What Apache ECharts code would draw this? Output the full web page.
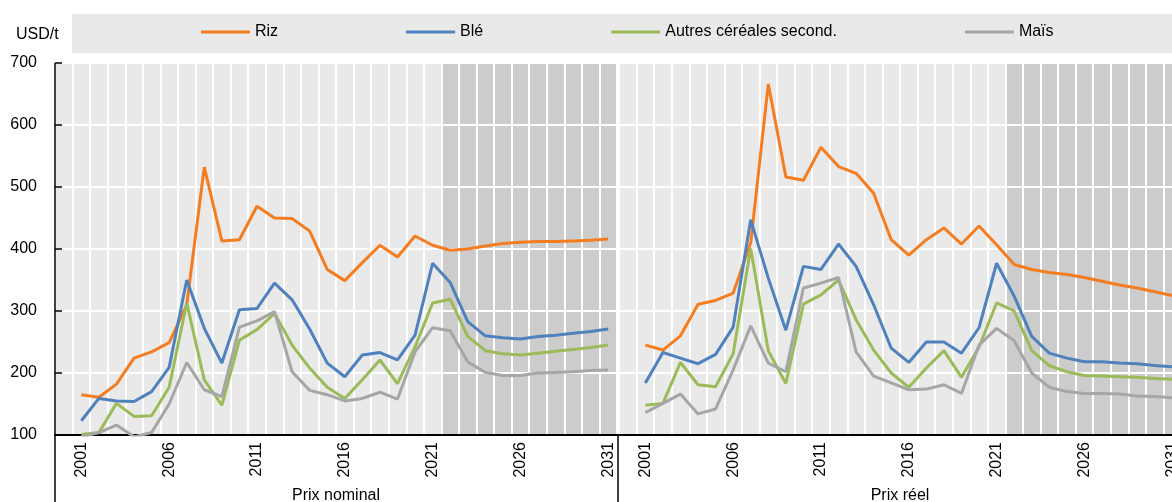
<!DOCTYPE html>
<html>
<head>
<meta charset="utf-8">
<script src="https://cdn.jsdelivr.net/npm/echarts@6/dist/echarts.min.js"></script>
<style>
  html, body { margin: 0; padding: 0; background: #fff; }
  #chart { width: 1172px; height: 502px; }
</style>
</head>
<body>
<div id="chart"></div>
<script>
// années (une catégorie vide avant 2001, comme dans l'original)
const years = [2001, 2002, 2003, 2004, 2005, 2006, 2007, 2008, 2009, 2010,
  2011, 2012, 2013, 2014, 2015, 2016, 2017, 2018, 2019, 2020,
  2021, 2022, 2023, 2024, 2025, 2026, 2027, 2028, 2029, 2030, 2031];
const projStart = 2022; // début des projections (zone grisée)

// Prix nominal, USD/t
const rizNominal    = [165, 161, 182, 224, 234, 249, 310, 532, 413, 415, 469, 450, 449, 429, 367, 349, 378, 406, 387, 421, 406, 398, 400, 405, 409, 411, 412, 412, 413, 414, 416];
const bleNominal    = [123, 159, 155, 154, 170, 209, 350, 272, 216, 302, 304, 345, 318, 271, 216, 194, 229, 233, 221, 261, 377, 346, 283, 260, 257, 255, 259, 261, 264, 267, 271];
const autresNominal = [101, 104, 151, 130, 131, 177, 313, 189, 148, 253, 270, 296, 245, 208, 177, 159, 189, 221, 183, 242, 313, 319, 259, 236, 231, 229, 232, 235, 238, 241, 245];
const maisNominal   = [97, 104, 116, 97, 104, 150, 217, 173, 162, 274, 284, 299, 202, 172, 165, 155, 159, 169, 158, 234, 273, 268, 218, 201, 196, 196, 200, 201, 202, 204, 205];

// Prix réel, USD/t
const rizReel    = [245, 237, 260, 311, 317, 329, 410, 666, 516, 511, 564, 533, 522, 490, 415, 390, 415, 434, 408, 437, 407, 375, 367, 362, 359, 354, 348, 342, 337, 331, 325];
const bleReel    = [184, 233, 224, 215, 230, 274, 447, 353, 269, 372, 367, 408, 372, 310, 240, 217, 250, 250, 232, 273, 377, 324, 259, 232, 224, 218, 218, 216, 215, 212, 210];
const autresReel = [148, 151, 217, 181, 178, 231, 401, 236, 183, 311, 326, 350, 286, 237, 200, 177, 208, 236, 193, 242, 313, 300, 236, 212, 202, 196, 195, 194, 193, 191, 190];
const maisReel   = [136, 151, 166, 134, 142, 205, 276, 216, 202, 337, 345, 354, 234, 195, 184, 173, 174, 181, 167, 245, 272, 252, 200, 177, 170, 167, 167, 166, 163, 162, 160];

const yTicks = [100, 200, 300, 400, 500, 600, 700];
const panels = ['Prix nominal', 'Prix réel'];
const seriesNames = ['Riz', 'Blé', 'Autres céréales second.', 'Maïs'];
const colors = ['#f47d22', '#4f81bd', '#9bbb59', '#a6a6a6'];

const FONT = '"Liberation Sans", Arial, sans-serif';
const FS = 16;
const categories = [''].concat(years.map(String));
const yMin = yTicks[0], yMax = yTicks[yTicks.length - 1];

const chart = echarts.init(document.getElementById('chart'), null, { renderer: 'canvas' });

function xAxisFor(i) {
  return {
    type: 'category',
    gridIndex: i,
    data: categories,
    boundaryGap: true,
    z: 2,
    name: panels[i],
    nameLocation: 'middle',
    nameGap: 53,
    nameTextStyle: { fontFamily: FONT, fontSize: FS, color: '#000' },
    axisLine: { show: true, onZero: false, lineStyle: { color: '#000', width: 2 } },
    axisTick: { show: false },
    splitLine: { show: true, interval: 0, lineStyle: { color: '#fff', width: 2 } },
    axisLabel: {
      rotate: 90,
      margin: 7,
      fontFamily: FONT,
      fontSize: FS,
      color: '#000',
      interval: (idx, val) => val !== '' && (Number(val) - years[0]) % 5 === 0
    }
  };
}

function yAxisFor(i) {
  return {
    type: 'value',
    gridIndex: i,
    min: yMin,
    max: yMax,
    interval: 100,
    z: 2,
    axisLine: { show: false },
    axisTick: { show: i === 0, inside: true, length: 7, lineStyle: { color: '#000', width: 1.5 } },
    axisLabel: { show: i === 0, margin: 18, fontFamily: FONT, fontSize: FS, color: '#000' },
    splitLine: { show: true, lineStyle: { color: '#fff', width: 2 } }
  };
}

// fond : colonnes claires, colonnes foncées pour les projections
function backgroundSeries(i) {
  return {
    type: 'bar',
    name: 'fond' + i,
    xAxisIndex: i,
    yAxisIndex: i,
    silent: true,
    z: 1,
    barWidth: '100%',
    data: categories.map(c => ({
      value: yMax,
      itemStyle: { color: (c !== '' && Number(c) >= projStart) ? '#cccccc' : '#e9e9e9' }
    }))
  };
}

function lineSeries(i, values) {
  return values.map((arr, k) => ({
    type: 'line',
    name: seriesNames[k],
    xAxisIndex: i,
    yAxisIndex: i,
    z: 3,
    symbol: 'none',
    clip: true,
    lineStyle: { width: 3, color: colors[k] },
    itemStyle: { color: colors[k] },
    data: [null].concat(arr)
  }));
}

const option = {
  animation: false,
  textStyle: { fontFamily: FONT },
  grid: [
    { left: 55, top: 63, width: 562, height: 372, outerBoundsMode: 'none' },
    { left: 619, top: 63, width: 562, height: 372, outerBoundsMode: 'none' }
  ],
  legend: {
    data: seriesNames,
    left: 201,
    top: 24,
    padding: 0,
    icon: 'rect',
    itemWidth: 49,
    itemHeight: 3,
    itemGap: 128,
    textStyle: { fontFamily: FONT, fontSize: FS, color: '#000' }
  },
  xAxis: [xAxisFor(0), xAxisFor(1)],
  yAxis: [yAxisFor(0), yAxisFor(1)],
  series: [
    backgroundSeries(0),
    backgroundSeries(1),
    ...lineSeries(0, [rizNominal, bleNominal, autresNominal, maisNominal]),
    ...lineSeries(1, [rizReel, bleReel, autresReel, maisReel])
  ],
  graphic: [
    { type: 'rect', z: 0, shape: { x: 72, y: 14, width: 1100, height: 39 }, style: { fill: '#e9e9e9' } },
    { type: 'text', z: 10, x: 16, y: 35, style: { text: 'USD/t', font: FS + 'px ' + FONT, fill: '#000', verticalAlign: 'middle' } },
    { type: 'line', z: 10, shape: { x1: 55, y1: 63, x2: 55, y2: 502 }, style: { stroke: '#000', lineWidth: 1.5 } },
    { type: 'line', z: 10, shape: { x1: 618, y1: 434, x2: 618, y2: 502 }, style: { stroke: '#000', lineWidth: 1.5 } }
  ]
};

chart.setOption(option);
</script>
</body>
</html>
